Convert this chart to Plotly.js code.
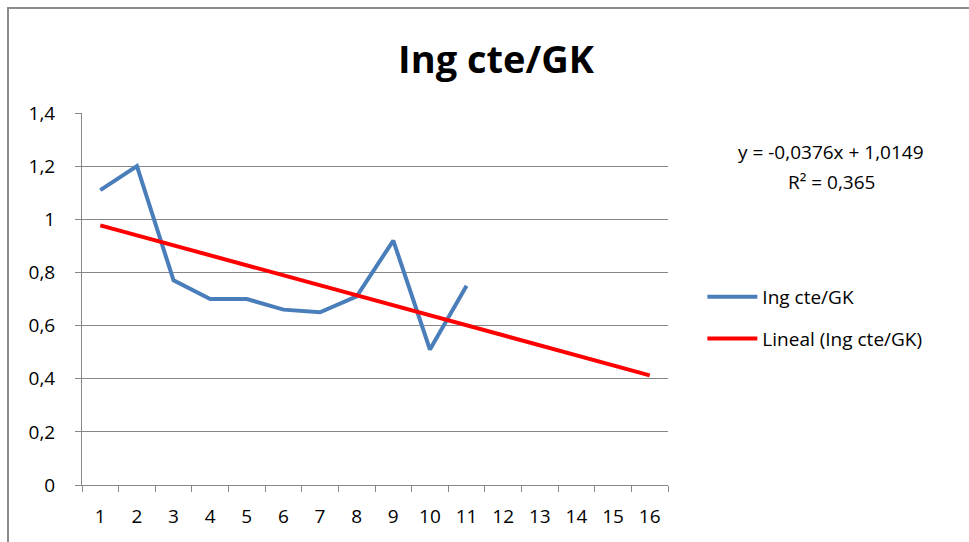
<!DOCTYPE html>
<html>
<head>
<meta charset="utf-8">
<script src="https://cdn.plot.ly/plotly-3.0.1.min.js"></script>
<style>
  html, body { margin: 0; padding: 0; background: #fff; }
  #wrap { position: relative; width: 969px; height: 542px; overflow: hidden; }
  #chart { width: 969px; height: 542px; }
  #frame { position: absolute; left: 7px; top: 7px; width: 2000px; height: 2000px;
           border-left: 2px solid #8c8c8c; border-top: 2px solid #8c8c8c; pointer-events: none; }
</style>
</head>
<body>
<div id="wrap">
  <div id="chart"></div>
  <div id="frame"></div>
</div>
<script>
// ---- data ----
const categories = ['1','2','3','4','5','6','7','8','9','10','11','12','13','14','15','16'];
const seriesName = 'Ing cte/GK';
const trendName = 'Lineal (Ing cte/GK)';
const seriesValues = [1.11, 1.20, 0.77, 0.70, 0.70, 0.66, 0.65, 0.71, 0.92, 0.51, 0.75];
const yTickVals = [0, 0.2, 0.4, 0.6, 0.8, 1, 1.2, 1.4];
const equationText = 'y = -0,0376x + 1,0149';
const r2Text = 'R² = 0,365';
const titleText = 'Ing cte/GK';

// ---- least-squares trendline (as the spreadsheet computes it) ----
const n = seriesValues.length;
const xs = seriesValues.map((_, i) => i + 1);
const mx = xs.reduce((a, b) => a + b, 0) / n;
const my = seriesValues.reduce((a, b) => a + b, 0) / n;
let sxy = 0, sxx = 0;
for (let i = 0; i < n; i++) { sxy += (xs[i] - mx) * (seriesValues[i] - my); sxx += (xs[i] - mx) ** 2; }
const slope = sxy / sxx;
const intercept = my - slope * mx;
const trendValues = categories.map((c, i) => slope * (i + 1) + intercept);

const FONT = 'Open Sans, Noto Sans, sans-serif';
const TICKFONT = { family: FONT, size: 19, color: '#000' };

const traces = [
  {
    x: categories.slice(0, n), y: seriesValues, type: 'scatter', mode: 'lines',
    name: seriesName, legendgroup: 'a',
    line: { color: '#4a7ebb', width: 4 }
  },
  {
    x: categories, y: trendValues, type: 'scatter', mode: 'lines',
    name: trendName, legendgroup: 'b',
    line: { color: '#ff0000', width: 4 }
  }
];

const layout = {
  width: 969, height: 542,
  margin: { l: 82, r: 301, t: 113, b: 57, pad: 0 },
  paper_bgcolor: '#ffffff', plot_bgcolor: '#ffffff',
  separators: ',.',
  font: { family: FONT, color: '#000000', size: 19 },
  title: {
    text: '<b>' + titleText + '</b>',
    font: { family: FONT, size: 38, color: '#000000' },
    x: 496 / 969, xanchor: 'center', xref: 'container',
    y: 1 - 60 / 542, yanchor: 'middle', yref: 'container'
  },
  xaxis: {
    type: 'category', categoryorder: 'array', categoryarray: categories,
    range: [-0.5, 15.5],
    tickson: 'boundaries', ticks: 'outside', ticklen: 6, tickcolor: '#868686', tickwidth: 1,
    showline: true, linecolor: '#868686', linewidth: 1,
    showgrid: false, zeroline: false,
    tickfont: TICKFONT,
    ticklabelstandoff: 14,
    fixedrange: true
  },
  yaxis: {
    range: [0, 1.4], tickvals: yTickVals,
    ticks: 'outside', ticklen: 6, tickcolor: '#868686', tickwidth: 1,
    showline: true, linecolor: '#868686', linewidth: 1,
    showgrid: true, gridcolor: '#868686', gridwidth: 1,
    zeroline: false,
    tickfont: TICKFONT,
    ticklabelstandoff: 16,
    fixedrange: true
  },
  showlegend: true,
  legend: {
    x: (703 - 82) / 586.6, xanchor: 'left', xref: 'paper',
    y: 1 - (278 - 113) / 372, yanchor: 'top',
    font: TICKFONT,
    itemwidth: 50,
    traceorder: 'grouped', tracegroupgap: 14,
    bgcolor: 'rgba(0,0,0,0)', borderwidth: 0
  },
  annotations: [
    { text: equationText, xref: 'paper', yref: 'paper', x: (832 - 82) / 586.6, y: (485 - 152) / 372,
      xanchor: 'center', yanchor: 'middle', showarrow: false, font: TICKFONT },
    { text: r2Text, xref: 'paper', yref: 'paper', x: (832 - 82) / 586.6, y: (485 - 182) / 372,
      xanchor: 'center', yanchor: 'middle', showarrow: false, font: TICKFONT }
  ]
};

Plotly.newPlot('chart', traces, layout, { displayModeBar: false, staticPlot: true });
</script>
</body>
</html>
